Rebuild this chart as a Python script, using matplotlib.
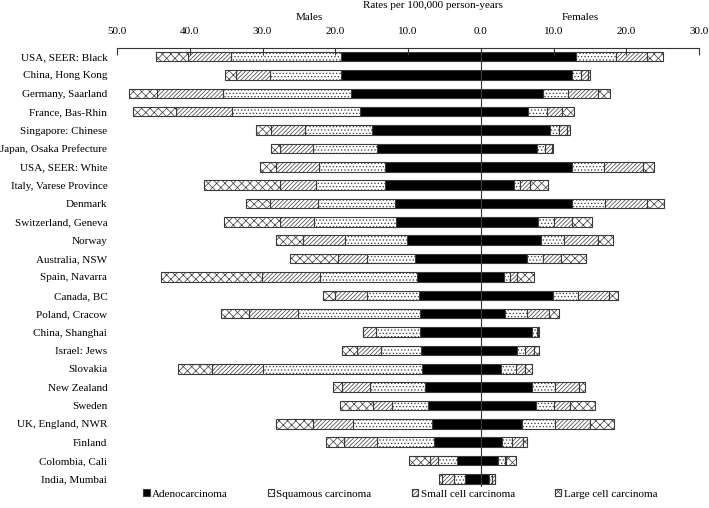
import matplotlib
matplotlib.use("Agg")
import matplotlib.pyplot as plt
from matplotlib.patches import Patch
from matplotlib.ticker import FuncFormatter
import numpy as np

plt.rcParams['font.family'] = ['Liberation Serif', 'DejaVu Serif']
plt.rcParams['hatch.linewidth'] = 0.5

registries = ['USA, SEER: Black', 'China, Hong Kong', 'Germany, Saarland', 'France, Bas-Rhin',
              'Singapore: Chinese', 'Japan, Osaka Prefecture', 'USA, SEER: White',
              'Italy, Varese Province', 'Denmark', 'Switzerland, Geneva', 'Norway',
              'Australia, NSW', 'Spain, Navarra', 'Canada, BC', 'Poland, Cracow',
              'China, Shanghai', 'Israel: Jews', 'Slovakia', 'New Zealand', 'Sweden',
              'UK, England, NWR', 'Finland', 'Colombia, Cali', 'India, Mumbai']

# males
male_adeno = [19.2, 19.2, 17.8, 16.6, 14.9, 14.2, 13.2, 13.1, 11.8, 11.7, 10.1, 9.1,
              8.7, 8.5, 8.4, 8.3, 8.2, 8.1, 7.7, 7.2, 6.7, 6.4, 3.3, 2.2]
male_squam = [15.1, 9.8, 17.6, 17.6, 9.2, 8.9, 9.0, 9.6, 10.6, 11.2, 8.6, 6.6,
              13.4, 7.2, 16.7, 6.1, 5.5, 21.8, 7.5, 5.0, 10.9, 7.8, 2.6, 1.5]
male_small = [6.0, 4.6, 9.1, 7.7, 4.7, 4.5, 5.9, 4.9, 6.6, 4.7, 5.7, 3.9,
              8.0, 4.4, 6.7, 1.8, 3.3, 7.0, 3.9, 2.6, 5.5, 4.6, 1.1, 1.6]
male_large = [4.3, 1.5, 3.9, 5.9, 2.1, 1.3, 2.3, 10.4, 3.3, 7.7, 3.7, 6.6,
              13.9, 1.6, 3.9, 0.0, 2.1, 4.7, 1.2, 4.6, 5.1, 2.5, 2.8, 0.4]

# females
female_adeno = [13.1, 12.6, 8.5, 6.5, 9.5, 7.7, 12.6, 4.6, 12.6, 7.9, 8.3, 6.4,
                3.2, 9.9, 3.3, 7.1, 5.0, 2.8, 7.1, 7.6, 5.7, 2.9, 2.4, 1.1]
female_squam = [5.5, 1.2, 3.5, 2.6, 1.3, 1.1, 4.3, 0.8, 4.5, 2.2, 3.2, 2.2,
                0.8, 3.5, 3.0, 0.6, 1.1, 2.0, 3.1, 2.4, 4.5, 1.4, 0.9, 0.5]
female_small = [4.3, 1.0, 4.1, 2.0, 1.0, 1.0, 5.4, 1.3, 5.7, 2.4, 4.6, 2.4,
                1.0, 4.2, 3.1, 0.2, 1.2, 1.3, 3.3, 2.3, 4.8, 1.5, 0.2, 0.3]
female_large = [2.1, 0.2, 1.7, 1.7, 0.5, 0.1, 1.5, 2.5, 2.4, 2.8, 2.1, 3.5,
                2.3, 1.2, 1.4, 0.1, 0.7, 1.0, 0.8, 3.4, 3.3, 0.6, 1.4, 0.1]

types = ['Adenocarcinoma', 'Squamous carcinoma', 'Small cell carcinoma', 'Large cell carcinoma']
male = [male_adeno, male_squam, male_small, male_large]
female = [female_adeno, female_squam, female_small, female_large]

styles = [dict(color='black', hatch=None),
          dict(color='white', hatch='.....'),
          dict(color='white', hatch='////////'),
          dict(color='white', hatch='xxxx')]

fig = plt.figure(figsize=(7.09, 5.08), dpi=100)
ax = fig.add_axes([0.165, 0.041, 0.821, 0.8645])

y = np.arange(len(registries))
h = 0.52
edge = '#3a3a3a'
fs = 8.0

# male bars go to the left (negative), stacked outward from 0
cum = np.zeros(len(y))
for vals, st in zip(male, styles):
    vals = np.array(vals)
    ax.barh(y, -vals, left=-cum, height=h, color=st['color'], hatch=st['hatch'],
            edgecolor=edge, linewidth=0.8)
    cum += vals

cum = np.zeros(len(y))
for vals, st in zip(female, styles):
    vals = np.array(vals)
    ax.barh(y, vals, left=cum, height=h, color=st['color'], hatch=st['hatch'],
            edgecolor=edge, linewidth=0.8)
    cum += vals

ax.axvline(0, color='#333333', linewidth=0.8, zorder=0)

ax.set_xlim(-50, 30)
ax.set_ylim(23.45, -0.47)
ax.set_yticks(y)
ax.set_yticklabels(registries, fontsize=fs)
ax.tick_params(axis='y', length=0, pad=7)

ax.xaxis.tick_top()
ax.set_xticks(np.arange(-50, 31, 10))
ax.xaxis.set_major_formatter(FuncFormatter(lambda v, p: '%.1f' % abs(v)))
ax.tick_params(axis='x', direction='in', length=5, width=0.8, color='#333333',
               labelsize=fs, pad=9)

for s in ['left', 'right', 'bottom']:
    ax.spines[s].set_visible(False)
ax.spines['top'].set_color('#333333')
ax.spines['top'].set_linewidth(0.8)

fig.text(433 / 709, 1 - 6 / 508, 'Rates per 100,000 person-years', ha='center', va='center', fontsize=fs)
fig.text(309 / 709, 1 - 18 / 508, 'Males', ha='center', va='center', fontsize=fs)
fig.text(580 / 709, 1 - 18 / 508, 'Females', ha='center', va='center', fontsize=fs)

handles = [Patch(facecolor=st['color'], hatch=st['hatch'], edgecolor=edge, linewidth=0.8)
           for st in styles]
fig.legend(handles, types, loc='center', bbox_to_anchor=(400 / 709, 1 - 494 / 508),
           ncol=4, frameon=False, fontsize=fs, handlelength=0.6, handleheight=0.6,
           handletextpad=0.2, columnspacing=3.6)

fig.savefig('out.png', dpi=100)
